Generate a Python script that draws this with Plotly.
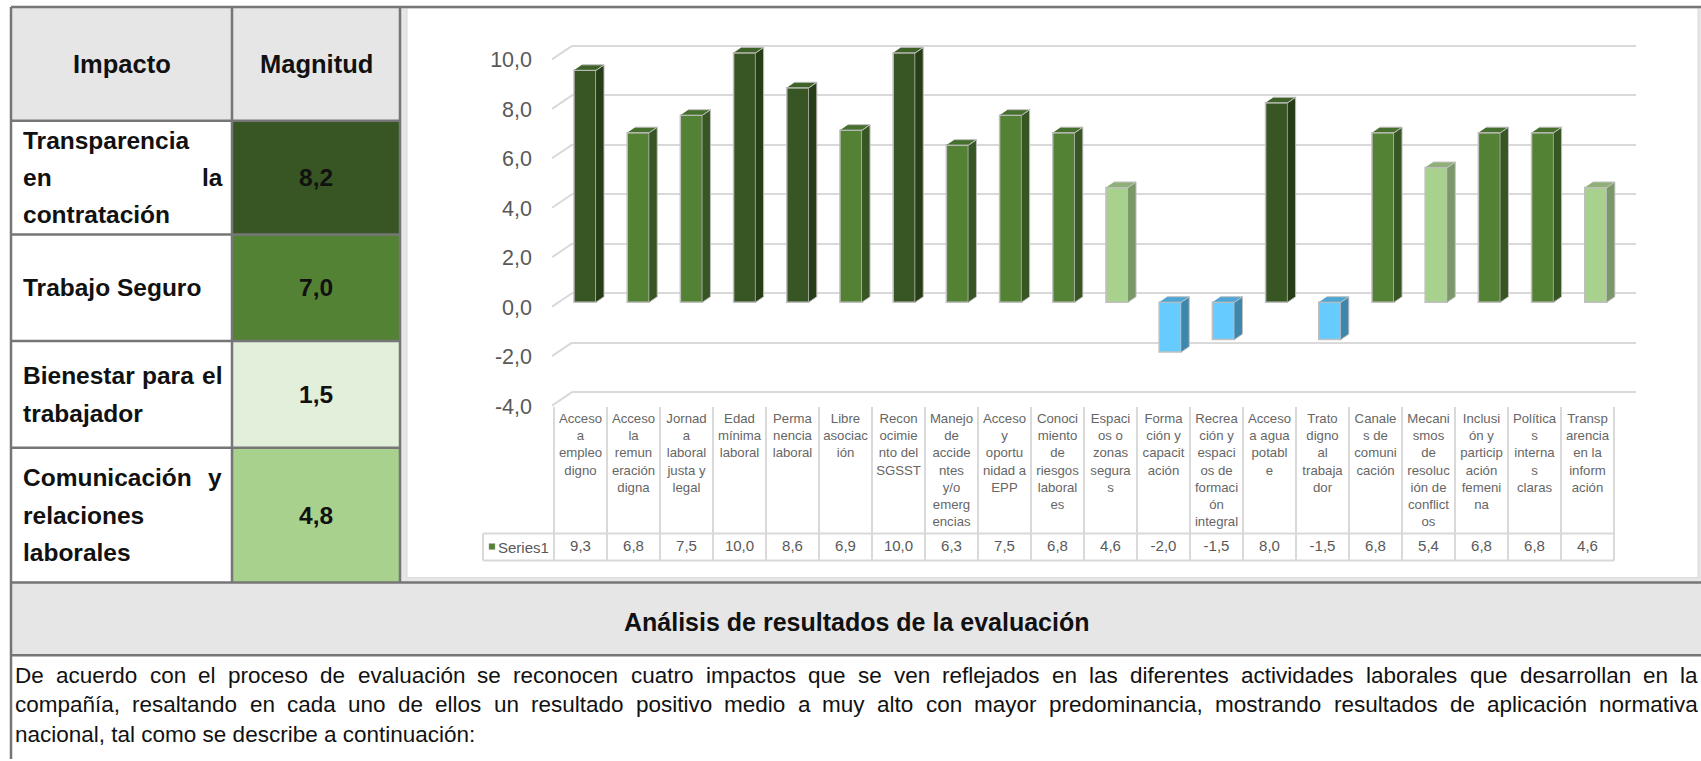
import plotly.graph_objects as go

W, H = 1701, 761
FONT = "Liberation Sans"

# ---------------- chart data ----------------
categorias = [
    "Acceso|a|empleo|digno",
    "Acceso|la|remun|eración|digna",
    "Jornad|a|laboral|justa y|legal",
    "Edad|mínima|laboral",
    "Perma|nencia|laboral",
    "Libre|asociac|ión",
    "Recon|ocimie|nto del|SGSST",
    "Manejo|de|accide|ntes|y/o|emerg|encias",
    "Acceso|y|oportu|nidad a|EPP",
    "Conoci|miento|de|riesgos|laboral|es",
    "Espaci|os o|zonas|segura|s",
    "Forma|ción y|capacit|ación",
    "Recrea|ción y|espaci|os de|formaci|ón|integral",
    "Acceso|a agua|potabl|e",
    "Trato|digno|al|trabaja|dor",
    "Canale|s de|comuni|cación",
    "Mecani|smos|de|resoluc|ión de|conflict|os",
    "Inclusi|ón y|particip|ación|femeni|na",
    "Política|s|interna|s|claras",
    "Transp|arencia|en la|inform|ación",
]
valores = [9.3, 6.8, 7.5, 10.0, 8.6, 6.9, 10.0, 6.3, 7.5, 6.8,
           4.6, -2.0, -1.5, 8.0, -1.5, 6.8, 5.4, 6.8, 6.8, 4.6]
nombre_serie = "Series1"
ticks_y = [-4, -2, 0, 2, 4, 6, 8, 10]

# ---------------- summary table data ----------------
encabezados = ["Impacto", "Magnitud"]
impactos = [
    ["Transparencia", "en la", "contratación"],
    ["Trabajo Seguro"],
    ["Bienestar para el", "trabajador"],
    ["Comunicación y", "relaciones", "laborales"],
]
magnitudes = [8.2, 7.0, 1.5, 4.8]
colores_magnitud = ["#375623", "#548235", "#e2efda", "#a9d18e"]

titulo_analisis = "Análisis de resultados de la evaluación"
parrafo = [
    "De acuerdo con el proceso de evaluación se reconocen cuatro impactos que se ven "
    "reflejados en las diferentes actividades laborales que desarrollan en la",
    "compañía, resaltando en cada uno de ellos un resultado positivo medio a muy alto con "
    "mayor predominancia, mostrando resultados de aplicación normativa",
    "nacional, tal como se describe a continuación:",
]

# ---------------- styling ----------------
GRIS_CELDA = "#e7e6e6"
GRIS_BORDE = "#767676"
GRIS_GRID = "#d9d9d9"
GRIS_TEXTO = "#595959"
BORDE_BARRA = "#bfbfbf"
PALETA = {  # front, side, top
    "oscuro": ("#375623", "#263d17", "#3f6229"),
    "medio": ("#548235", "#375623", "#476f2d"),
    "claro": ("#a9d18e", "#7a9868", "#8fb078"),
    "azul": ("#66ccff", "#3d87ad", "#4fa6d4"),
}


def tono(v):
    if v < 0:
        return "azul"
    if v >= 8:
        return "oscuro"
    if v >= 6:
        return "medio"
    return "claro"


def coma(v):
    return f"{v:.1f}".replace(".", ",")


def fx(px):
    return px / W


def fy(py):
    return 1 - py / H


# Advance widths (1/1000 em) used to justify lines of text
REG = dict(zip("abcdefghijklmnopqrstuvwxyz",
               [556, 556, 500, 556, 556, 278, 556, 556, 222, 222, 500, 222, 833,
                556, 556, 556, 556, 333, 500, 278, 556, 500, 722, 500, 500, 500]))
REG.update({"á": 556, "é": 556, "í": 278, "ó": 556, "ú": 556, "ñ": 556,
            " ": 278, ",": 278, ":": 278, ".": 278, "D": 722})
BOLD = dict(zip("abcdefghijklmnopqrstuvwxyz",
                [556, 611, 556, 611, 556, 333, 611, 611, 278, 278, 556, 278, 889,
                 611, 611, 611, 611, 389, 556, 333, 611, 556, 778, 556, 556, 500]))
BOLD.update({"á": 556, "é": 556, "í": 278, "ó": 611, "ú": 611, "ñ": 611,
             " ": 278, ",": 278, "T": 611, "B": 722, "C": 722, "S": 667})

anots = []
shapes = []


def texto(s, x, y, size, bold=False, color="#111111", xanchor="left"):
    return dict(text=s, x=fx(x), y=fy(y), xref="paper", yref="paper",
                xanchor=xanchor, yanchor="middle", showarrow=False, borderpad=0,
                font=dict(family=FONT, size=size, color=color,
                          weight="bold" if bold else "normal"))


def linea_texto(linea, x0, x1, yc, size, bold, justificar, color="#111111"):
    tabla = BOLD if bold else REG
    if not justificar or " " not in linea:
        anots.append(texto(linea, x0, yc, size, bold, color))
        return
    ws = linea.split(" ")
    anchos = [sum(tabla.get(ch, 556) for ch in w) * size / 1000 for w in ws]
    hueco = (x1 - x0 - sum(anchos)) / (len(ws) - 1)
    x = x0
    for w, a in zip(ws, anchos):
        anots.append(texto(w, x, yc, size, bold, color))
        x += a + hueco


def rect(x0, y0, x1, y1, fill, line=None, lw=0, layer="below"):
    shapes.append(dict(type="rect", xref="paper", yref="paper",
                       x0=fx(x0), x1=fx(x1), y0=fy(y0), y1=fy(y1),
                       fillcolor=fill, line=dict(color=line or fill, width=lw),
                       layer=layer))


def segmento(x0, y0, x1, y1, color=GRIS_BORDE, lw=2.5, layer="above"):
    shapes.append(dict(type="line", xref="paper", yref="paper",
                       x0=fx(x0), x1=fx(x1), y0=fy(y0), y1=fy(y1),
                       line=dict(color=color, width=lw), layer=layer))


# ---------------- page layout (pixels) ----------------
X_IZQ, X_COL, X_DER = 11, 232, 400
FILAS = [7, 121, 235, 342, 449, 584]
Y_FIN_ENC = 657
INTERLINEA = 37.5

# cell backgrounds
rect(X_IZQ, FILAS[0], X_DER, FILAS[1], GRIS_CELDA)
for i, c in enumerate(colores_magnitud):
    rect(X_COL, FILAS[i + 1], X_DER, FILAS[i + 2], c)
rect(X_DER, FILAS[0], W, FILAS[-1], GRIS_CELDA)
rect(407, 8, 1698, 579, "white", line=GRIS_GRID, lw=1)
rect(X_IZQ, FILAS[-1], W, Y_FIN_ENC, GRIS_CELDA)

# table borders
for y in FILAS[1:-1]:
    segmento(X_IZQ, y, X_DER, y)
for y in (FILAS[0], FILAS[-1], Y_FIN_ENC):
    segmento(X_IZQ, y, W, y)
segmento(X_IZQ, FILAS[0], X_IZQ, H)
segmento(X_COL, FILAS[0], X_COL, FILAS[-1])
segmento(X_DER, FILAS[0], X_DER, FILAS[-1])

# table text
TAM_TABLA = 24.5
yc = (FILAS[0] + FILAS[1]) / 2
anots.append(texto(encabezados[0], (X_IZQ + X_COL) / 2, yc, TAM_TABLA + 1, True, xanchor="center"))
anots.append(texto(encabezados[1], (X_COL + X_DER) / 2, yc, TAM_TABLA + 1, True, xanchor="center"))
for i, (lineas, mag) in enumerate(zip(impactos, magnitudes)):
    yc = (FILAS[i + 1] + FILAS[i + 2]) / 2
    y_ini = yc - (len(lineas) - 1) * INTERLINEA / 2
    for j, ln in enumerate(lineas):
        linea_texto(ln, 22, 221, y_ini + j * INTERLINEA, TAM_TABLA, True,
                    justificar=(j < len(lineas) - 1))
    anots.append(texto(coma(mag), (X_COL + X_DER) / 2, yc, TAM_TABLA, True, xanchor="center"))

# section heading and paragraph
anots.append(texto(titulo_analisis, (X_IZQ + W) / 2, 624, 25, True, xanchor="center"))
for j, ln in enumerate(parrafo):
    linea_texto(ln, 14, 1697, 677 + j * 29.5, 22.5, False,
                justificar=(j < len(parrafo) - 1))

# ---------------- 3D column chart ----------------
# back wall: 0 at y=294 px, 24.8 px per unit
Y0_FONDO, ESC_FONDO = 294, 24.8
# bar plane: 0 at y=303 px, 25 px per unit; category step 53.2 px
Y0_BARRA, ESC_BARRA = 303, 25.0
X0_BARRA, PASO_BARRA = 585, 53.2
# data table under the chart
X0_TABLA, PASO_TABLA = 554, 53.0
Y_TABLA_TOP, Y_SERIE_TOP, Y_SERIE_BOT = 408, 535, 562
Y_EJE_CAT = 410

idx = list(range(len(valores)))
n = len(valores)
ANCHO = 0.415
DX, DY = 8 / PASO_BARRA, 5.5 / ESC_BARRA

fig = go.Figure()

# front faces
fig.add_trace(go.Bar(
    x=idx, y=valores, width=ANCHO, name=nombre_serie,
    marker=dict(color=[PALETA[tono(v)][0] for v in valores],
                line=dict(color=BORDE_BARRA, width=1.5)),
    xaxis="x2", yaxis="y2", hoverinfo="skip"))

# side and top faces, grouped by colour
grupos = {}
for i, v in zip(idx, valores):
    grupos.setdefault(tono(v), []).append((i, v))
for t, items in grupos.items():
    sx, sy, tx, ty = [], [], [], []
    for i, v in items:
        lo, hi = min(0, v), max(0, v)
        l, r = i - ANCHO / 2, i + ANCHO / 2
        sx += [r, r + DX, r + DX, r, None]
        sy += [lo, lo + DY, hi + DY, hi, None]
        tx += [l, r, r + DX, l + DX, None]
        ty += [hi, hi, hi + DY, hi + DY, None]
    fig.add_trace(go.Scatter(x=sx, y=sy, mode="lines", fill="toself",
                             fillcolor=PALETA[t][1], line=dict(color=BORDE_BARRA, width=1),
                             xaxis="x2", yaxis="y2", hoverinfo="skip"))
    fig.add_trace(go.Scatter(x=tx, y=ty, mode="lines", fill="toself",
                             fillcolor=PALETA[t][2], line=dict(color=BORDE_BARRA, width=1),
                             xaxis="x2", yaxis="y2", hoverinfo="skip"))

# values row of the data table
fig.add_trace(go.Scatter(
    x=idx, y=[0.5] * n, mode="text", text=[coma(v) for v in valores],
    textfont=dict(family=FONT, size=15, color=GRIS_TEXTO),
    xaxis="x3", yaxis="y3", hoverinfo="skip"))

# front-edge connectors of the value axis
PROF = 13.5 / ESC_FONDO
for t in ticks_y:
    shapes.append(dict(type="line", xref="paper", yref="y",
                       x0=fx(552), x1=fx(572), y0=t - PROF, y1=t,
                       line=dict(color=GRIS_GRID, width=2), layer="below"))

# data-table grid
for k in range(n + 1):
    shapes.append(dict(type="line", xref="x3", yref="paper",
                       x0=k - 0.5, x1=k - 0.5, y0=fy(Y_TABLA_TOP), y1=fy(Y_SERIE_BOT),
                       line=dict(color=GRIS_GRID, width=2), layer="below"))
X_FIN_TABLA = X0_TABLA + PASO_TABLA * n
segmento(483, Y_SERIE_TOP, X_FIN_TABLA, Y_SERIE_TOP, GRIS_GRID, 2, "below")
segmento(483, Y_SERIE_BOT, X_FIN_TABLA, Y_SERIE_BOT, GRIS_GRID, 2, "below")
segmento(483, Y_SERIE_TOP, 483, Y_SERIE_BOT, GRIS_GRID, 2, "below")
rect(489, 545, 495, 551, "#548235", line="#a6a6a6", lw=0.5)
anots.append(texto(nombre_serie, 497, (Y_SERIE_TOP + Y_SERIE_BOT) / 2, 15, False, GRIS_TEXTO))

fig.update_layout(
    width=W, height=H, margin=dict(l=0, r=0, t=0, b=0, pad=0),
    paper_bgcolor="white", plot_bgcolor="rgba(0,0,0,0)",
    showlegend=False, hovermode=False, separators=",.",
    font=dict(family=FONT),
    xaxis=dict(domain=[fx(572), fx(1636)], range=[0, 1], visible=False, anchor="y"),
    yaxis=dict(domain=[fy(Y0_FONDO + 5 * ESC_FONDO), fy(Y0_FONDO - 10.5 * ESC_FONDO)],
               range=[-5, 10.5], anchor="x",
               tickvals=ticks_y, ticktext=[coma(t) for t in ticks_y],
               showgrid=True, gridcolor=GRIS_GRID, gridwidth=2,
               zeroline=False, showline=False, ticks="",
               tickfont=dict(family=FONT, size=21.5, color=GRIS_TEXTO),
               ticklabelstandoff=39, ticklabelshift=14),
    xaxis2=dict(domain=[fx(X0_BARRA - PASO_BARRA / 2), fx(X0_BARRA + PASO_BARRA * (n - 0.5))],
                range=[-0.5, n - 0.5], visible=False, anchor="y2"),
    yaxis2=dict(domain=[fy(Y0_BARRA + 4.5 * ESC_BARRA), fy(Y0_BARRA - 10.5 * ESC_BARRA)],
                range=[-4.5, 10.5], visible=False, anchor="x2"),
    xaxis3=dict(domain=[fx(X0_TABLA - 0.05 * PASO_TABLA), fx(X_FIN_TABLA + 0.05 * PASO_TABLA)],
                range=[-0.55, n - 0.45], anchor="free", position=fy(Y_EJE_CAT),
                tickvals=idx, ticktext=[c.replace("|", "<br>") for c in categorias],
                tickangle=0, showgrid=False, zeroline=False, showline=False, ticks="",
                tickfont=dict(family=FONT, size=13.2, color="#666666")),
    yaxis3=dict(domain=[fy(Y_SERIE_BOT), fy(Y_SERIE_TOP)], range=[0, 1],
                visible=False, anchor="x3"),
    shapes=shapes,
    annotations=anots,
)

fig.write_html("out.html")
